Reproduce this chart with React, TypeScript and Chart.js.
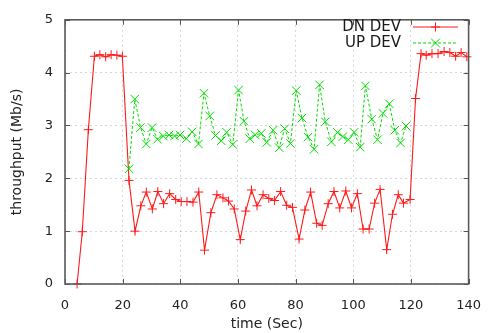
import React, { useEffect, useRef } from "react";
import { Chart, registerables } from "chart.js";

Chart.register(...registerables);

const FONT = "'DejaVu Sans', 'Liberation Sans', sans-serif";

// Time stamps (s) and throughput (Mb/s)
const dnTime = [4.2, 6, 8.1, 10.2, 12.1, 14.1, 16, 18, 19.9, 22.2, 24.3, 26.3, 28.2, 30.3, 32.2, 34.2, 36.3, 38.4, 40.3, 42.3, 44.4, 46.4, 48.4, 50.6, 52.7, 54.8, 56.7, 58.7, 60.8, 62.7, 64.7, 66.6, 68.7, 70.7, 72.7, 74.8, 76.9, 78.9, 81.2, 83.2, 85.2, 87.3, 89.2, 91.3, 93.3, 95.3, 97.4, 99.4, 101.4, 103.4, 105.5, 107.4, 109.3, 111.6, 113.6, 115.6, 117.4, 119.7, 121.6, 123.5, 125.3, 127.3, 129.4, 131.5, 133.5, 135.5, 137.4, 139.4];
const dnValue = [0, 0.99, 2.92, 4.31, 4.34, 4.3, 4.34, 4.33, 4.31, 1.96, 1.0, 1.48, 1.74, 1.42, 1.75, 1.52, 1.71, 1.6, 1.56, 1.56, 1.55, 1.74, 0.64, 1.35, 1.69, 1.63, 1.57, 1.42, 0.84, 1.38, 1.78, 1.48, 1.69, 1.62, 1.58, 1.75, 1.49, 1.45, 0.85, 1.4, 1.74, 1.15, 1.11, 1.52, 1.75, 1.44, 1.76, 1.44, 1.71, 1.04, 1.04, 1.53, 1.79, 0.65, 1.32, 1.69, 1.53, 1.6, 3.51, 4.36, 4.33, 4.36, 4.36, 4.4, 4.38, 4.31, 4.38, 4.3];

const upTime = [22.2, 24.2, 26.2, 28.2, 30.2, 32.1, 34.1, 36.1, 38, 39.9, 42.1, 44.1, 46.3, 48.2, 50.2, 52.2, 54.2, 56.1, 58.2, 60.2, 62.1, 64.1, 66, 68.1, 70, 72.2, 74.3, 76.2, 78.2, 80.2, 82.2, 84.3, 86.4, 88.3, 90.3, 92.4, 94.5, 96.4, 98.3, 100.3, 102.4, 104.2, 106.4, 108.4, 110.3, 112.5, 114.4, 116.4, 118.3];
const upValue = [2.18, 3.5, 2.96, 2.65, 2.96, 2.74, 2.8, 2.82, 2.8, 2.82, 2.75, 2.88, 2.65, 3.61, 3.18, 2.81, 2.71, 2.87, 2.64, 3.67, 3.08, 2.75, 2.82, 2.85, 2.68, 2.91, 2.58, 2.94, 2.66, 3.66, 3.14, 2.78, 2.55, 3.77, 3.07, 2.69, 2.87, 2.79, 2.73, 2.87, 2.59, 3.75, 3.12, 2.73, 3.23, 3.41, 2.91, 2.67, 2.99];

const seriesNames = ["DN DEV", "UP DEV"];
const xTicks = [0, 20, 40, 60, 80, 100, 120, 140];
const yTicks = [0, 1, 2, 3, 4, 5];
const xTitle = "time (Sec)";
const yTitle = "throughput (Mb/s)";

const RED = "#ff1a1a";
const GREEN = "#00dd00";

function drawPlus(ctx: CanvasRenderingContext2D, x: number, y: number, r: number) {
  ctx.beginPath();
  ctx.moveTo(x - r, y);
  ctx.lineTo(x + r, y);
  ctx.moveTo(x, y - r);
  ctx.lineTo(x, y + r);
  ctx.stroke();
}
function drawX(ctx: CanvasRenderingContext2D, x: number, y: number, r: number) {
  ctx.beginPath();
  ctx.moveTo(x - r, y - r);
  ctx.lineTo(x + r, y + r);
  ctx.moveTo(x - r, y + r);
  ctx.lineTo(x + r, y - r);
  ctx.stroke();
}

const framePlugin = {
  id: "gnuplotFrame",
  afterDraw(chart: any) {
    const { ctx, chartArea: a, scales } = chart;
    ctx.save();
    // inward tick marks on all four sides
    ctx.strokeStyle = "#555";
    ctx.lineWidth = 1;
    const tl = 5;
    ctx.beginPath();
    for (const v of xTicks) {
      const x = Math.round(scales.x.getPixelForValue(v)) + 0.5;
      ctx.moveTo(x, a.bottom);
      ctx.lineTo(x, a.bottom - tl);
      ctx.moveTo(x, a.top);
      ctx.lineTo(x, a.top + tl);
    }
    for (const v of yTicks) {
      const y = Math.round(scales.y.getPixelForValue(v)) + 0.5;
      ctx.moveTo(a.left, y);
      ctx.lineTo(a.left + tl, y);
      ctx.moveTo(a.right, y);
      ctx.lineTo(a.right - tl, y);
    }
    ctx.stroke();
    // frame
    ctx.strokeStyle = "#5a5a5a";
    ctx.lineWidth = 1.6;
    ctx.strokeRect(a.left, a.top, a.right - a.left, a.bottom - a.top);

    // legend (gnuplot style, inside top right)
    const textX = 401;
    const lx0 = 413;
    const lx1 = 458;
    const rows = [27, 43];
    ctx.font = `15px ${FONT}`;
    ctx.fillStyle = "#1a1a1a";
    ctx.textAlign = "right";
    ctx.textBaseline = "middle";
    ctx.fillText(seriesNames[0], textX, rows[0]);
    ctx.fillText(seriesNames[1], textX, rows[1]);

    ctx.lineWidth = 1;
    ctx.strokeStyle = RED;
    ctx.beginPath();
    ctx.moveTo(lx0, rows[0]);
    ctx.lineTo(lx1, rows[0]);
    ctx.stroke();
    drawPlus(ctx, (lx0 + lx1) / 2, rows[0], 4.5);

    ctx.strokeStyle = GREEN;
    ctx.setLineDash([3, 2]);
    ctx.beginPath();
    ctx.moveTo(lx0, rows[1]);
    ctx.lineTo(lx1, rows[1]);
    ctx.stroke();
    ctx.setLineDash([]);
    drawX(ctx, (lx0 + lx1) / 2, rows[1], 4.5);
    ctx.restore();
  },
};

export default function App() {
  const ref = useRef<HTMLCanvasElement | null>(null);
  useEffect(() => {
    if (!ref.current) return;
    const dn = dnTime.map((t, i) => ({ x: t, y: dnValue[i] }));
    const up = upTime.map((t, i) => ({ x: t, y: upValue[i] }));
    const chart = new Chart(ref.current, {
      type: "line",
      data: {
        datasets: [
          {
            label: seriesNames[1],
            data: up,
            borderColor: GREEN,
            backgroundColor: GREEN,
            borderWidth: 1,
            borderDash: [3, 2],
            pointStyle: "crossRot",
            pointRadius: 6,
            pointBorderWidth: 1,
            pointBorderColor: GREEN,
            tension: 0,
            clip: false as any,
          },
          {
            label: seriesNames[0],
            data: dn,
            borderColor: RED,
            backgroundColor: RED,
            borderWidth: 1.1,
            pointStyle: "cross",
            pointRadius: 4.5,
            pointBorderWidth: 1,
            pointBorderColor: RED,
            tension: 0,
            clip: false as any,
          },
        ],
      },
      options: {
        responsive: false,
        animation: false,
        devicePixelRatio: 1,
        layout: { padding: { left: 0, top: 16, right: 17, bottom: 0 } },
        plugins: { legend: { display: false }, tooltip: { enabled: false } },
        scales: {
          x: {
            type: "linear",
            min: 0,
            max: 140,
            afterBuildTicks: (s: any) => {
              s.ticks = xTicks.map((v) => ({ value: v }));
            },
            afterFit: (s: any) => {
              s.height = 49;
            },
            ticks: {
              font: { family: FONT, size: 13 },
              color: "#222",
              padding: 14,
              maxRotation: 0,
            },
            grid: { color: "rgba(0,0,0,0.16)", drawTicks: false, lineWidth: 1 },
            border: { display: false, dash: [2, 3] },
            title: {
              display: true,
              text: xTitle,
              font: { family: FONT, size: 14 },
              color: "#222",
              padding: { top: 0, bottom: 0 },
            },
          },
          y: {
            type: "linear",
            min: 0,
            max: 5,
            afterBuildTicks: (s: any) => {
              s.ticks = yTicks.map((v) => ({ value: v }));
            },
            afterFit: (s: any) => {
              s.width = 65;
            },
            ticks: {
              font: { family: FONT, size: 13 },
              color: "#222",
              padding: 12,
            },
            grid: { color: "rgba(0,0,0,0.16)", drawTicks: false, lineWidth: 1 },
            border: { display: false, dash: [2, 3] },
            title: {
              display: true,
              text: yTitle,
              font: { family: FONT, size: 14 },
              color: "#222",
              padding: { top: 8.6, bottom: 0 },
            },
          },
        },
      },
      plugins: [framePlugin],
    });
    return () => chart.destroy();
  }, []);
  return (
    <div style={{ position: "absolute", left: 0, top: 0, width: 495, height: 333, background: "#fff" }}>
      <canvas ref={ref} width={495} height={333} style={{ width: 495, height: 333, display: "block" }} />
    </div>
  );
}
